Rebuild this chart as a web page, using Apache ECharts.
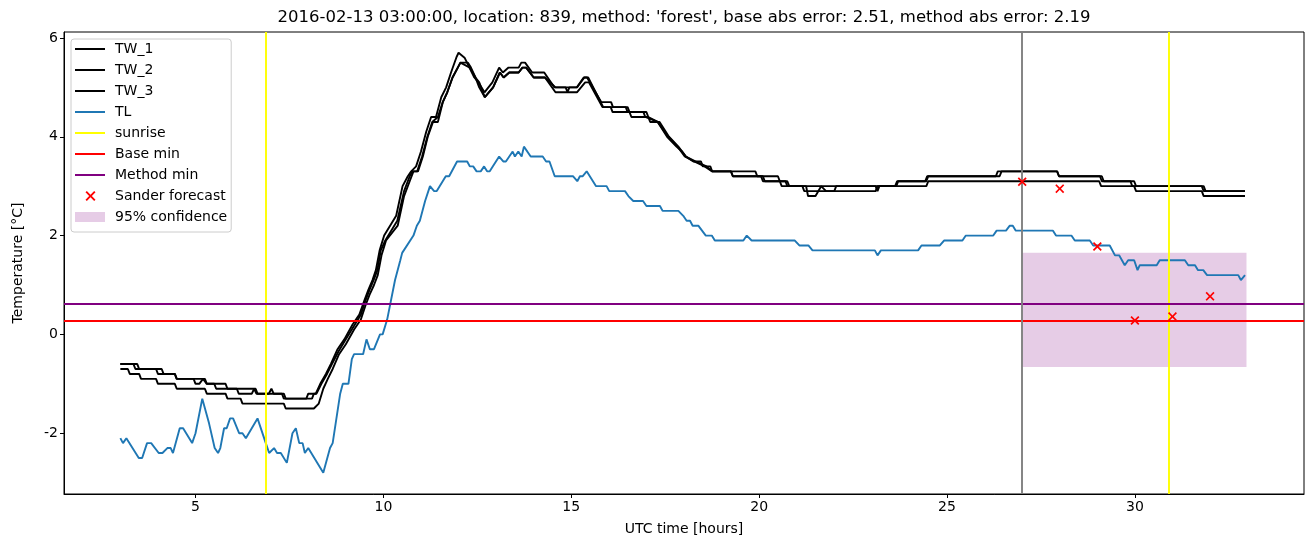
<!DOCTYPE html>
<html><head><meta charset="utf-8">
<script src="https://cdn.jsdelivr.net/npm/echarts@6/dist/echarts.min.js"></script>
<style>html,body{margin:0;padding:0;background:#fff}#c{width:1313px;height:547px}</style>
</head><body><div id="c"></div>
<script>
const titleText = "2016-02-13 03:00:00, location: 839, method: 'forest', base abs error: 2.51, method abs error: 2.19";
const xTicks = [5, 10, 15, 20, 25, 30];
const yTicks = [-2, 0, 2, 4, 6];

const tw1 = [[3.0,-0.6],[3.35,-0.6],[3.4,-0.7],[4.1,-0.7],[4.15,-0.8],[4.45,-0.8],[4.5,-0.9],[4.95,-0.9],[5.0,-1.0],[5.1,-1.0],[5.2,-0.9],[5.3,-1.0],[5.5,-1.0],[5.55,-1.1],[6.1,-1.1],[6.15,-1.2],[6.5,-1.2],[6.56,-1.1],[6.62,-1.2],[6.95,-1.2],[7.02,-1.1],[7.08,-1.2],[7.3,-1.2],[7.35,-1.3],[7.95,-1.3],[8.0,-1.2],[8.2,-1.2],[8.32,-1.0],[8.47,-0.8],[8.6,-0.6],[8.78,-0.3],[8.96,-0.1],[9.18,0.2],[9.36,0.4],[9.5,0.7],[9.6,0.9],[9.71,1.1],[9.8,1.3],[9.9,1.7],[10.02,2.0],[10.34,2.4],[10.51,3.0],[10.65,3.2],[10.74,3.3],[10.87,3.4],[11.0,3.7],[11.14,4.1],[11.27,4.4],[11.4,4.4],[11.54,4.8],[11.67,5.0],[11.8,5.3],[11.94,5.6],[12.0,5.7],[12.16,5.6],[12.29,5.4],[12.42,5.2],[12.53,5.1],[12.69,4.9],[12.9,5.1],[13.08,5.4],[13.18,5.3],[13.33,5.4],[13.6,5.4],[13.67,5.5],[13.77,5.5],[13.96,5.3],[14.28,5.3],[14.55,5.0],[15.15,5.0],[15.33,5.2],[15.42,5.2],[15.8,4.7],[16.06,4.7],[16.11,4.6],[16.5,4.6],[16.55,4.5],[17.0,4.5],[17.05,4.4],[17.3,4.3],[17.55,4.0],[17.8,3.8],[17.95,3.7],[18.05,3.6],[18.25,3.5],[18.45,3.5],[18.5,3.4],[18.7,3.4],[18.75,3.3],[19.9,3.3],[19.95,3.2],[20.5,3.2],[20.55,3.1],[20.75,3.1],[20.8,3.0],[23.62,3.0],[23.67,3.1],[24.42,3.1],[24.47,3.2],[26.3,3.2],[26.35,3.3],[27.93,3.3],[27.98,3.2],[29.12,3.2],[29.17,3.1],[29.98,3.1],[30.03,3.0],[31.83,3.0],[31.88,2.9],[32.93,2.9]];

const tw2 = [[3.0,-0.6],[3.45,-0.6],[3.5,-0.7],[3.95,-0.7],[4.0,-0.8],[4.45,-0.8],[4.5,-0.9],[5.25,-0.9],[5.3,-1.0],[5.8,-1.0],[5.85,-1.1],[6.6,-1.1],[6.65,-1.2],[7.35,-1.2],[7.4,-1.3],[8.1,-1.3],[8.15,-1.2],[8.22,-1.2],[8.35,-1.0],[8.5,-0.8],[8.63,-0.6],[8.8,-0.35],[9.0,-0.1],[9.2,0.15],[9.4,0.4],[9.53,0.7],[9.63,0.9],[9.74,1.1],[9.84,1.3],[9.93,1.7],[10.05,1.9],[10.37,2.3],[10.55,2.9],[10.7,3.2],[10.78,3.3],[10.9,3.3],[11.03,3.6],[11.17,4.0],[11.3,4.3],[11.45,4.4],[11.58,4.7],[11.7,4.9],[11.84,5.2],[11.98,5.4],[12.05,5.5],[12.25,5.5],[12.33,5.4],[12.45,5.2],[12.55,5.1],[12.7,4.8],[12.92,5.0],[13.1,5.3],[13.2,5.2],[13.35,5.3],[13.6,5.3],[13.7,5.4],[13.8,5.4],[14.0,5.2],[14.3,5.2],[14.58,4.9],[15.15,4.9],[15.37,5.1],[15.47,5.1],[15.83,4.6],[16.45,4.6],[16.5,4.5],[16.92,4.5],[16.97,4.4],[17.3,4.3],[17.58,4.0],[17.83,3.8],[18.02,3.6],[18.27,3.5],[18.55,3.4],[18.75,3.3],[19.25,3.3],[19.3,3.2],[20.1,3.2],[20.15,3.1],[20.7,3.1],[20.75,3.0],[21.25,3.0],[21.3,2.8],[21.5,2.8],[21.65,3.0],[21.78,2.9],[22.0,2.9],[22.05,3.0],[23.1,3.0],[23.15,2.9],[23.2,3.0],[23.65,3.0],[23.7,3.1],[24.45,3.1],[24.5,3.2],[26.4,3.2],[26.45,3.3],[27.93,3.3],[27.98,3.2],[29.07,3.2],[29.12,3.1],[29.88,3.1],[29.93,3.0],[31.78,3.0],[31.83,2.9],[32.93,2.9]];

const tw3 = [[3.0,-0.7],[3.2,-0.7],[3.25,-0.8],[3.5,-0.8],[3.55,-0.9],[3.95,-0.9],[4.0,-1.0],[4.45,-1.0],[4.5,-1.1],[5.25,-1.1],[5.3,-1.2],[5.8,-1.2],[5.85,-1.3],[6.2,-1.3],[6.25,-1.4],[7.35,-1.4],[7.4,-1.5],[8.15,-1.5],[8.28,-1.4],[8.4,-1.1],[8.52,-0.9],[8.65,-0.7],[8.82,-0.4],[9.0,-0.2],[9.22,0.1],[9.4,0.3],[9.53,0.6],[9.63,0.8],[9.75,1.0],[9.85,1.2],[9.95,1.6],[10.07,1.9],[10.38,2.2],[10.55,2.8],[10.7,3.1],[10.8,3.3],[10.92,3.3],[11.05,3.6],[11.18,4.0],[11.32,4.3],[11.45,4.3],[11.58,4.7],[11.7,4.9],[11.84,5.2],[11.98,5.4],[12.05,5.5],[12.3,5.4],[12.45,5.2],[12.55,5.0],[12.7,4.8],[12.92,5.0],[13.1,5.3],[13.2,5.2],[13.35,5.3],[13.6,5.3],[13.7,5.4],[13.8,5.4],[14.0,5.2],[14.3,5.2],[14.58,5.0],[14.85,5.0],[14.9,4.9],[14.95,5.0],[15.15,5.0],[15.35,5.2],[15.45,5.2],[15.85,4.6],[16.05,4.6],[16.1,4.5],[16.55,4.5],[16.6,4.4],[17.05,4.4],[17.1,4.3],[17.35,4.3],[17.6,4.0],[17.85,3.8],[18.05,3.6],[18.3,3.5],[18.6,3.4],[18.75,3.3],[19.25,3.3],[19.3,3.2],[20.05,3.2],[20.1,3.1],[20.55,3.1],[20.6,3.0],[21.15,3.0],[21.2,2.9],[23.1,2.9],[23.15,3.0],[24.45,3.0],[24.5,3.1],[29.05,3.1],[29.1,3.0],[29.98,3.0],[30.03,2.9],[31.78,2.9],[31.83,2.8],[32.93,2.8]];

const tl = [[3.0,-2.1],[3.07,-2.2],[3.16,-2.1],[3.49,-2.5],[3.58,-2.5],[3.71,-2.2],[3.82,-2.2],[4.02,-2.4],[4.12,-2.4],[4.25,-2.3],[4.34,-2.3],[4.4,-2.4],[4.58,-1.9],[4.67,-1.9],[4.91,-2.2],[5.0,-2.0],[5.18,-1.3],[5.36,-1.8],[5.51,-2.3],[5.6,-2.4],[5.66,-2.3],[5.76,-1.9],[5.83,-1.9],[5.92,-1.7],[6.0,-1.7],[6.16,-2.0],[6.25,-2.0],[6.34,-2.1],[6.65,-1.7],[6.87,-2.2],[6.96,-2.4],[7.09,-2.3],[7.17,-2.4],[7.27,-2.4],[7.43,-2.6],[7.58,-2.0],[7.67,-1.9],[7.76,-2.2],[7.85,-2.2],[7.91,-2.4],[8.0,-2.3],[8.4,-2.8],[8.58,-2.3],[8.65,-2.2],[8.85,-1.2],[8.92,-1.0],[9.07,-1.0],[9.16,-0.5],[9.22,-0.4],[9.46,-0.4],[9.55,-0.1],[9.64,-0.3],[9.75,-0.3],[9.91,0.0],[9.98,0.0],[10.1,0.3],[10.31,1.1],[10.45,1.5],[10.5,1.65],[10.8,2.0],[10.89,2.2],[10.97,2.3],[11.11,2.7],[11.24,3.0],[11.35,2.9],[11.42,2.9],[11.66,3.2],[11.75,3.2],[11.96,3.5],[12.23,3.5],[12.3,3.4],[12.39,3.4],[12.48,3.3],[12.59,3.3],[12.68,3.4],[12.76,3.3],[12.83,3.3],[13.08,3.6],[13.19,3.5],[13.26,3.5],[13.44,3.7],[13.5,3.6],[13.59,3.7],[13.68,3.6],[13.74,3.8],[13.92,3.6],[14.24,3.6],[14.33,3.5],[14.42,3.5],[14.56,3.2],[15.05,3.2],[15.16,3.1],[15.23,3.2],[15.3,3.2],[15.41,3.3],[15.66,3.0],[15.94,3.0],[16.01,2.9],[16.43,2.9],[16.52,2.8],[16.65,2.7],[16.91,2.7],[17.0,2.6],[17.36,2.6],[17.43,2.5],[17.85,2.5],[17.98,2.4],[18.07,2.3],[18.16,2.3],[18.23,2.2],[18.38,2.2],[18.58,2.0],[18.74,2.0],[18.82,1.9],[19.58,1.9],[19.67,2.0],[19.8,1.9],[20.95,1.9],[21.07,1.8],[21.31,1.8],[21.42,1.7],[23.08,1.7],[23.15,1.6],[23.24,1.7],[24.23,1.7],[24.32,1.8],[24.81,1.8],[24.92,1.9],[25.41,1.9],[25.5,2.0],[26.23,2.0],[26.32,2.1],[26.57,2.1],[26.67,2.2],[26.75,2.2],[26.83,2.1],[27.82,2.1],[27.9,2.0],[28.31,2.0],[28.4,1.9],[28.8,1.9],[28.89,1.8],[29.33,1.8],[29.47,1.6],[29.58,1.6],[29.73,1.4],[29.82,1.5],[29.98,1.5],[30.07,1.3],[30.13,1.4],[30.58,1.4],[30.66,1.5],[31.33,1.5],[31.42,1.4],[31.6,1.4],[31.68,1.3],[31.82,1.3],[31.92,1.2],[32.75,1.2],[32.82,1.1],[32.93,1.2]];

const sunriseHours = [6.88, 30.9];
const nowHour = 27;
const baseMin = 0.285;
const methodMin = 0.62;
const forecastHours = [27, 28, 29, 30, 31, 32];
const forecastValues = [3.09, 2.95, 1.78, 0.28, 0.36, 0.77];
const confHours = [27, 32.97];
const confBounds = [-0.66, 1.65];

const FONT = 'DejaVu Sans';
const LW = 1.9;
const X_PATH = 'path://M0,1.35L1.35,0L5,3.65L8.65,0L10,1.35L6.35,5L10,8.65L8.65,10L5,6.35L1.35,10L0,8.65L3.65,5Z';
const X_LEGEND = 'path://M0,0M30,10M10.5,1.35L11.85,0L15.5,3.65L19.15,0L20.5,1.35L16.85,5L20.5,8.65L19.15,10L15.5,6.35L11.85,10L10.5,8.65L14.15,5Z';
const LINE_ICON = 'path://M0,0M30,10M0,4H30V6H0Z';

const chart = echarts.init(document.getElementById('c'), null, {renderer: 'canvas'});

function lineSeries(name, data, color) {
  return {name, type: 'line', data, symbol: 'none', showSymbol: false, color,
    lineStyle: {color, width: LW}, z: 3, silent: true};
}
function refLine(name, color, markData, z) {
  return {name, type: 'line', data: [], color, symbol: 'none', lineStyle: {color, width: LW}, z,
    markLine: {silent: true, symbol: 'none', label: {show: false},
      lineStyle: {color, width: LW, type: 'solid'}, data: markData}};
}

const option = {
  animation: false,
  backgroundColor: '#fff',
  textStyle: {fontFamily: FONT},
  graphic: [{
    type: 'text', x: 684, y: 9, silent: true,
    style: {text: titleText, fontFamily: FONT, fontSize: 16.5, fill: '#000',
      align: 'center', verticalAlign: 'top', textAlign: 'center', textVerticalAlign: 'top'}
  }],
  grid: {left: 64, right: 9, top: 32, bottom: 53, show: true, borderColor: '#000', borderWidth: 1},
  xAxis: {
    type: 'value', min: 1.5, max: 34.5,
    splitLine: {show: false},
    axisLine: {show: true, onZero: false, lineStyle: {color: '#000', width: 1}},
    axisTick: {show: true, length: 4, lineStyle: {color: '#000'}, customValues: xTicks},
    axisLabel: {customValues: xTicks, color: '#000', fontSize: 14, fontFamily: FONT, margin: 6},
    name: 'UTC time [hours]', nameLocation: 'middle', nameGap: 28,
    nameTextStyle: {color: '#000', fontSize: 14, fontFamily: FONT}
  },
  yAxis: {
    type: 'value', min: -3.23, max: 6.12,
    splitLine: {show: false},
    axisLine: {show: true, onZero: false, lineStyle: {color: '#000', width: 1}},
    axisTick: {show: true, length: 4, lineStyle: {color: '#000'}, customValues: yTicks},
    axisLabel: {customValues: yTicks, color: '#000', fontSize: 14, fontFamily: FONT, margin: 6},
    name: 'Temperature [°C]', nameLocation: 'middle', nameGap: 39,
    nameTextStyle: {color: '#000', fontSize: 14, fontFamily: FONT}
  },
  legend: {
    orient: 'vertical', left: 71, top: 39,
    itemWidth: 30, itemHeight: 10, itemGap: 5,
    padding: [2, 4, 7, 4],
    backgroundColor: 'rgba(255,255,255,0.8)', borderColor: '#cccccc', borderWidth: 1, borderRadius: 3,
    textStyle: {fontFamily: FONT, fontSize: 14, color: '#000', lineHeight: 16, padding: [0, 0, 0, 5]},
    selectedMode: false,
    data: [
      {name: 'TW_1', icon: LINE_ICON},
      {name: 'TW_2', icon: LINE_ICON},
      {name: 'TW_3', icon: LINE_ICON},
      {name: 'TL', icon: LINE_ICON},
      {name: 'sunrise', icon: LINE_ICON},
      {name: 'Base min', icon: LINE_ICON},
      {name: 'Method min', icon: LINE_ICON},
      {name: 'Sander forecast', icon: X_LEGEND},
      {name: '95% confidence', icon: 'rect', itemStyle: {color: 'rgba(128,0,128,0.2)'}}
    ]
  },
  series: [
    {
      name: '95% confidence', type: 'line', data: [], z: 1, silent: true,
      color: 'rgba(128,0,128,0.2)',
      markArea: {silent: true, itemStyle: {color: 'rgba(128,0,128,0.2)'},
        data: [[{xAxis: confHours[0], yAxis: confBounds[0]}, {xAxis: confHours[1], yAxis: confBounds[1]}]]}
    },
    lineSeries('TW_1', tw1, '#000000'),
    lineSeries('TW_2', tw2, '#000000'),
    lineSeries('TW_3', tw3, '#000000'),
    lineSeries('TL', tl, '#1f77b4'),
    refLine('sunrise', '#ffff00', sunriseHours.map(h => ({xAxis: h})), 4),
    refLine('Base min', '#ff0000', [{yAxis: baseMin}], 4),
    refLine('Method min', '#800080', [{yAxis: methodMin}], 4),
    refLine('now', '#808080', [{xAxis: nowHour}], 4),
    {
      name: 'Sander forecast', type: 'scatter', z: 5, silent: true,
      symbol: X_PATH, symbolSize: 9, symbolKeepAspect: true,
      itemStyle: {color: '#ff0000', opacity: 1}, color: '#ff0000',
      data: forecastHours.map((h, i) => [h, forecastValues[i]])
    }
  ]
};
chart.setOption(option);
</script></body></html>
